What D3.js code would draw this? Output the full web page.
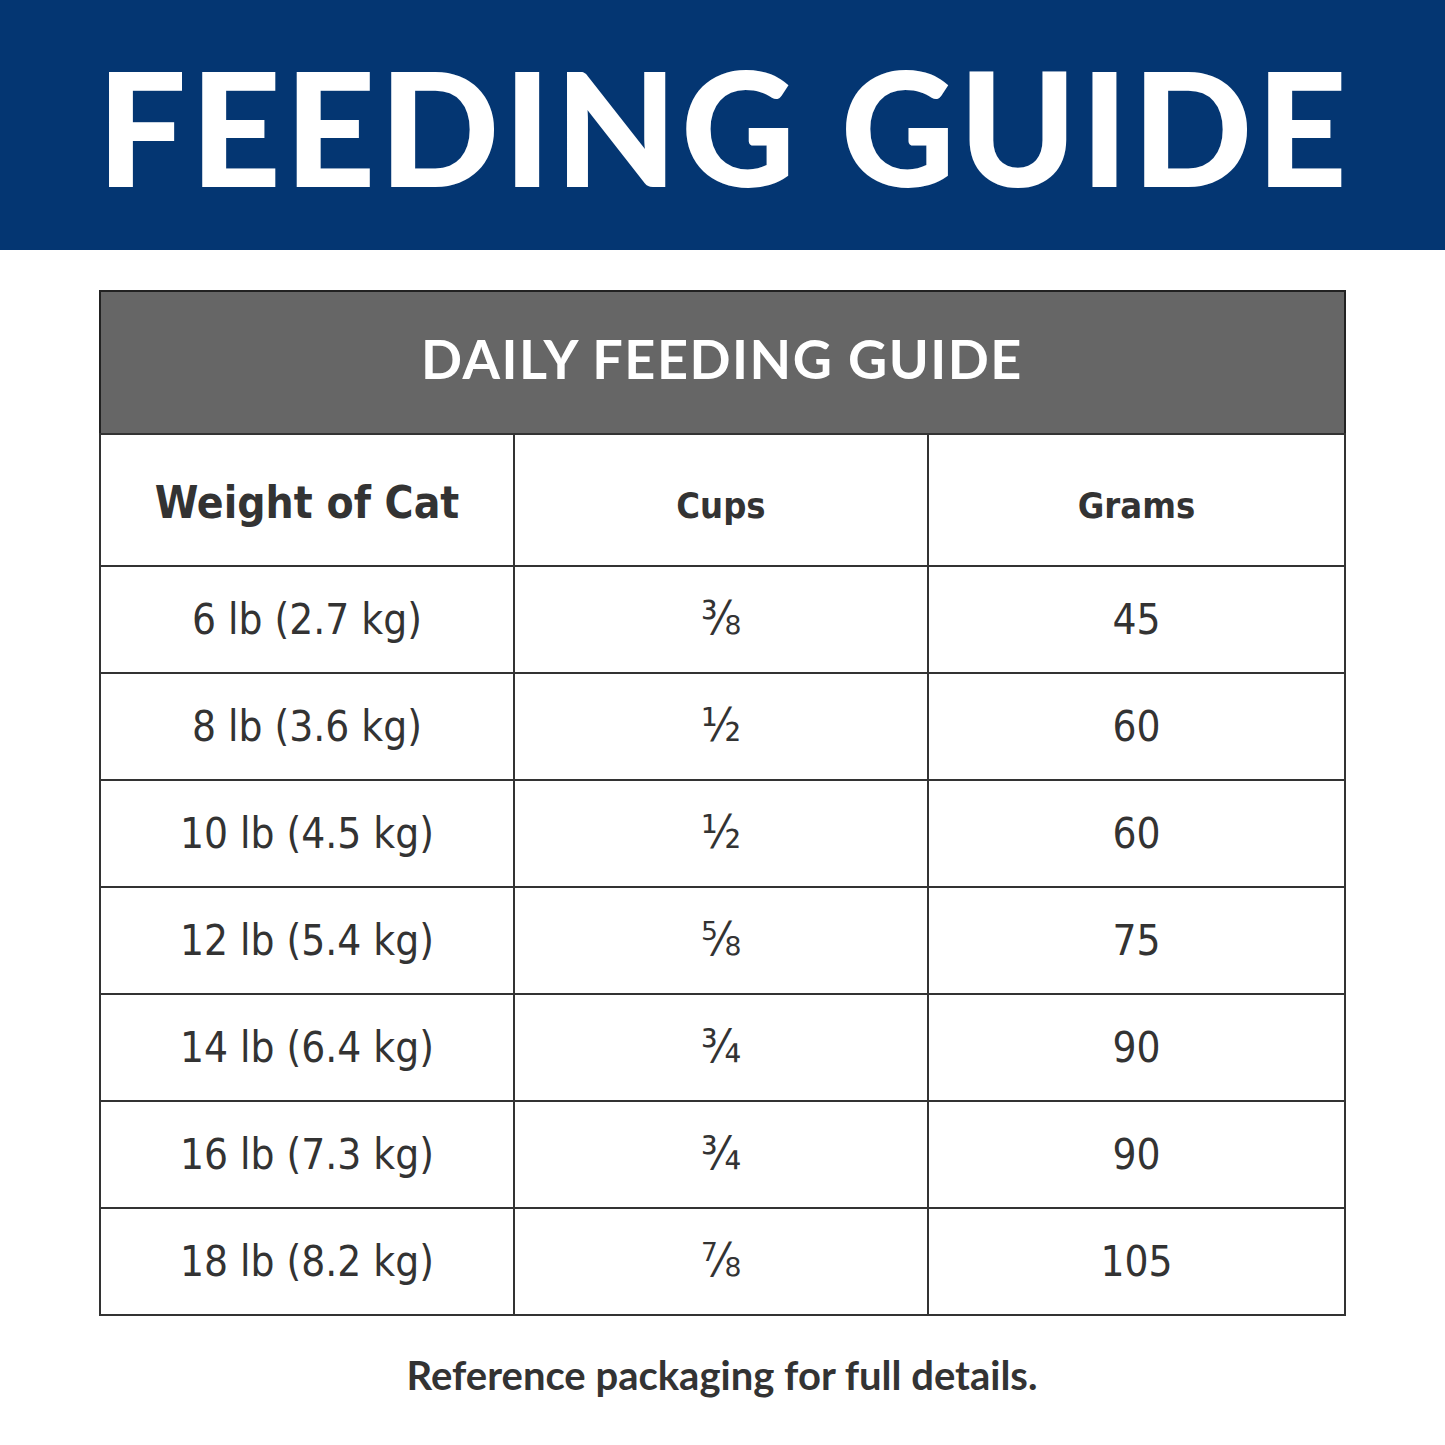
<!DOCTYPE html>
<html><head><meta charset="utf-8">
<script src="https://cdn.jsdelivr.net/npm/d3@7"></script>
<style>body{margin:0;background:#fff}</style>
</head><body>
<script>
// table contents
const headers = ["Weight of Cat", "Cups", "Grams"];
const weights = ["6 lb (2.7 kg)", "8 lb (3.6 kg)", "10 lb (4.5 kg)", "12 lb (5.4 kg)", "14 lb (6.4 kg)", "16 lb (7.3 kg)", "18 lb (8.2 kg)"];
const cups = ["⅜", "½", "½", "⅝", "¾", "¾", "⅞"];
const grams = [45, 60, 60, 75, 90, 90, 105];

let W = 1445, H = 1445;
let svg = d3.select("body").append("svg").attr("width", W).attr("height", H);

// banner
svg.append("rect").attr("width", W).attr("height", 250).attr("fill", "#043672");
svg.append("text").attr("x", 722).attr("y", 187).attr("text-anchor", "middle")
    .attr("font-family", "Lato, 'Open Sans', sans-serif").attr("font-weight", 900)
    .attr("font-size", 158).attr("fill", "#fff").attr("textLength", 1250)
    .text("FEEDING GUIDE");

let tLeft = 100, tRight = 1345, tTop = 291;
let cols = d3.scaleOrdinal().domain([0, 1, 2]).range([tLeft, 514, 928]);
let colEnd = [514, 928, tRight];
let rowY = d3.scaleLinear().domain([0, weights.length]).range([566, 1315]);

// grey header
svg.append("rect").attr("x", tLeft).attr("y", tTop).attr("width", tRight - tLeft).attr("height", 143)
    .attr("fill", "#666666").attr("stroke", "#222").attr("stroke-width", 2);
svg.append("text").attr("x", 722).attr("y", 379).attr("text-anchor", "middle")
    .attr("font-family", "Lato, sans-serif").attr("font-weight", 700).attr("font-size", 54)
    .attr("letter-spacing", 1.5).attr("fill", "#fff").text("DAILY FEEDING GUIDE");

let font = "'DejaVu Sans Condensed', 'Roboto Condensed', sans-serif";
let g = svg.append("g").attr("stroke", "#333").attr("stroke-width", 2);
// outer box + grid
g.append("rect").attr("x", tLeft).attr("y", 434).attr("width", tRight - tLeft).attr("height", 1315 - 434).attr("fill", "none");
[514, 928].forEach(x => g.append("line").attr("x1", x).attr("x2", x).attr("y1", 434).attr("y2", 1315));
d3.range(weights.length).forEach(i => g.append("line").attr("x1", tLeft).attr("x2", tRight).attr("y1", rowY(i)).attr("y2", rowY(i)));

let cx = i => (cols(i) + colEnd[i]) / 2;
headers.forEach((h, i) => {
    svg.append("text").attr("x", cx(i)).attr("y", 518).attr("text-anchor", "middle")
        .attr("font-family", font).attr("font-weight", 700)
        .attr("font-size", i == 0 ? 44 : 36).attr("fill", "#333").text(h);
});
let rows = weights.map((w, i) => [w, cups[i], String(grams[i])]);
rows.forEach((r, i) => {
    r.forEach((t, j) => {
        svg.append("text").attr("x", cx(j)).attr("y", rowY(i) + 68).attr("text-anchor", "middle")
            .attr("font-family", font).attr("font-size", j == 1 ? 46 : 42).attr("fill", "#333").text(t);
    });
});

svg.append("text").attr("x", 722).attr("y", 1390).attr("text-anchor", "middle")
    .attr("font-family", "Lato, sans-serif").attr("font-weight", 700).attr("font-size", 40)
    .attr("fill", "#333").text("Reference packaging for full details.");
</script>
</body></html>
